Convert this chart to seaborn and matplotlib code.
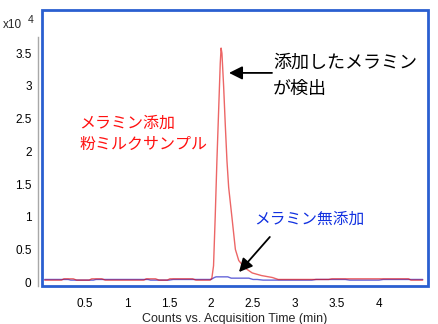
import matplotlib
matplotlib.use("Agg")
import matplotlib.pyplot as plt
from matplotlib.patches import Rectangle
import pandas as pd
import seaborn as sns

# Extracted ion chromatogram, intensity in units of 10^4 counts
time_spiked = [0.02, 0.22, 0.25, 0.36, 0.40, 0.55, 0.58, 0.70, 0.74, 1.20, 1.23,
               1.34, 1.38, 1.48, 1.51, 1.78, 1.82, 1.99, 2.01, 2.03, 2.05, 2.07,
               2.09, 2.11, 2.12, 2.13, 2.15, 2.17, 2.19, 2.21, 2.25, 2.29, 2.33,
               2.40, 2.49, 2.60, 2.73, 2.80, 3.40, 3.44, 3.60, 4.35, 4.38, 4.52]
intensity_spiked = [0.03, 0.03, 0.05, 0.05, 0.03, 0.03, 0.05, 0.05, 0.03, 0.03, 0.05,
                    0.05, 0.03, 0.03, 0.05, 0.05, 0.03, 0.03, 0.06, 0.25, 1.00, 1.85,
                    2.60, 3.35, 3.58, 3.50, 3.00, 2.40, 1.85, 1.45, 0.98, 0.50, 0.33,
                    0.22, 0.14, 0.10, 0.07, 0.04, 0.04, 0.05, 0.05, 0.05, 0.03, 0.03]

time_blank = [0.02, 0.30, 0.33, 0.60, 0.63, 0.90, 1.25, 1.28, 1.50, 1.55, 1.80,
              2.00, 2.04, 2.06, 2.20, 2.24, 2.45, 2.50, 2.55, 2.62, 2.66, 3.20,
              3.25, 3.60, 3.65, 4.00, 4.05, 4.52]
intensity_blank = [0.04, 0.04, 0.03, 0.03, 0.04, 0.04, 0.04, 0.03, 0.03, 0.04, 0.04,
                   0.04, 0.07, 0.08, 0.08, 0.06, 0.06, 0.04, 0.04, 0.03, 0.03, 0.03,
                   0.04, 0.04, 0.03, 0.03, 0.04, 0.04]

x_ticks = [0.5, 1, 1.5, 2, 2.5, 3, 3.5, 4, 4.5]
x_tick_labels = ["0.5", "1", "1.5", "2", "2.5", "3", "3.5", "4", ""]
y_ticks = [0, 0.5, 1, 1.5, 2, 2.5, 3, 3.5]
y_tick_labels = ["0", "0.5", "1", "1.5", "2", "2.5", "3", "3.5"]

sns.set_style("white")
plt.rcParams["font.family"] = ["Liberation Sans", "Noto Sans CJK JP", "DejaVu Sans"]
JP = ["Noto Sans CJK JP", "DejaVu Sans"]

W, H = 438, 324
fig = plt.figure(figsize=(W / 100, H / 100), dpi=100)
ax = fig.add_axes([42 / W, 1 - 286 / H, (428 - 42) / W, (286 - 9.5) / H])

df_blank = pd.DataFrame({"t": time_blank, "v": intensity_blank})
df_spiked = pd.DataFrame({"t": time_spiked, "v": intensity_spiked})
sns.lineplot(data=df_blank, x="t", y="v", ax=ax, color="#0000c0", lw=1.0, alpha=0.6,
             estimator=None, sort=False)
sns.lineplot(data=df_spiked, x="t", y="v", ax=ax, color="#e00000", lw=1.0, alpha=0.6,
             estimator=None, sort=False)

ax.set_xlim(-0.012, 4.583)
ax.set_ylim(-0.06, 4.17)
ax.set_xticks(x_ticks)
ax.set_xticklabels(x_tick_labels)
ax.set_yticks(y_ticks)
ax.set_yticklabels(y_tick_labels)
ax.set_xlabel("Counts vs. Acquisition Time (min)", fontsize=9, labelpad=2)
ax.set_ylabel("")

for side in ("top", "right"):
    ax.spines[side].set_visible(False)
ax.spines["bottom"].set_position(("outward", 4))
ax.spines["bottom"].set_visible(False)
ax.spines["left"].set_position(("outward", 3))
ax.spines["left"].set_color("#a8a8a8")
ax.spines["left"].set_linewidth(1.0)
ax.spines["left"].set_bounds(-0.06, 3.75)
ax.tick_params(axis="both", direction="out", length=3, width=1, color="#a8a8a8",
               labelsize=8.5, pad=1.5, labelcolor="black")

# blue plot frame
ax.add_patch(Rectangle((0, 0), 1, 1, transform=ax.transAxes, fill=False,
                       edgecolor="#2a5fd0", lw=2.0, clip_on=False, zorder=10))

# exponent label
fig.text(3 / W, 1 - 25 / H, "x10", fontsize=8.5, ha="left", va="center")
fig.text(28 / W, 1 - 20 / H, "4", fontsize=7.5, ha="left", va="center")

# annotations
fig.text(273 / W, 1 - 63 / H, "添加したメラミン", family=JP, fontsize=13,
         color="black", ha="left", va="center")
fig.text(273 / W, 1 - 89 / H, "が検出", family=JP, fontsize=13,
         color="black", ha="left", va="center")
ax.annotate("", xy=(2.214, 3.2), xytext=(2.726, 3.2),
            arrowprops=dict(arrowstyle="-|>", color="black", lw=1.3, mutation_scale=20,
                            shrinkA=0, shrinkB=0))

fig.text(79 / W, 1 - 123 / H, "メラミン添加", family=JP, fontsize=11.5,
         color="#ff1010", ha="left", va="center")
fig.text(79 / W, 1 - 144 / H, "粉ミルクサンプル", family=JP, fontsize=11.5,
         color="#ff1010", ha="left", va="center")

fig.text(254 / W, 1 - 219 / H, "メラミン無添加", family=JP, fontsize=11.3,
         color="#1030e0", ha="left", va="center")
ax.annotate("", xy=(2.333, 0.153), xytext=(2.70, 0.69),
            arrowprops=dict(arrowstyle="-|>", color="black", lw=1.3, mutation_scale=20,
                            shrinkA=0, shrinkB=0))

fig.savefig("out.png", dpi=100)
